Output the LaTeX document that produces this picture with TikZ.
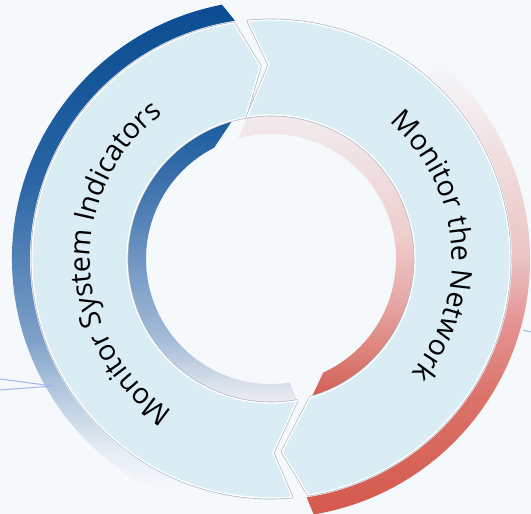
\documentclass[tikz,border=0pt]{standalone}
\usepackage{fontspec}
\setmainfont{Open Sans}
\usetikzlibrary{decorations.text}
\definecolor{bg}{HTML}{F5F9FC}
\definecolor{bandc}{HTML}{DAEDF5}
\definecolor{shadowc}{HTML}{A9B2BC}
\definecolor{linec}{HTML}{A4B4F0}
% blue outer
\definecolor{boA}{HTML}{E5ECF3}
\definecolor{boB}{HTML}{A9C1DA}
\definecolor{boC}{HTML}{7FA0C8}
\definecolor{boD}{HTML}{2A65A5}
\definecolor{boE}{HTML}{155698}
\definecolor{boF}{HTML}{0C4C91}
% blue inner
\definecolor{biA}{HTML}{E8EBF0}
\definecolor{biB}{HTML}{D5DEE9}
\definecolor{biC}{HTML}{A5BCD8}
\definecolor{biD}{HTML}{3A70AC}
\definecolor{biE}{HTML}{1E5EA0}
% pink inner
\definecolor{piA}{HTML}{D35E55}
\definecolor{piB}{HTML}{DC847C}
\definecolor{piC}{HTML}{E6A8A6}
\definecolor{piD}{HTML}{EFCFCF}
\definecolor{piE}{HTML}{F1E9EB}
% red outer
\definecolor{roA}{HTML}{D45A4E}
\definecolor{roB}{HTML}{DB7268}
\definecolor{roC}{HTML}{E59595}
\definecolor{roD}{HTML}{EBC3C3}
\definecolor{roE}{HTML}{F0D8D8}
\pgfdeclareverticalshading{blueouter}{100bp}{color(0bp)=(bg); color(27.8bp)=(bg); color(31.6bp)=(boA); color(38.3bp)=(boB); color(42.2bp)=(boC); color(57.6bp)=(boD); color(67.4bp)=(boE); color(75bp)=(boF); color(100bp)=(boF)}
\pgfdeclareverticalshading{blueinner}{100bp}{color(0bp)=(biA); color(36.5bp)=(biA); color(38.3bp)=(biB); color(42.2bp)=(biC); color(57.6bp)=(biD); color(62.9bp)=(biE); color(100bp)=(biE)}
\pgfdeclareverticalshading{pinkinner}{100bp}{color(0bp)=(piA); color(36.8bp)=(piA); color(41.2bp)=(piB); color(46bp)=(piC); color(52.5bp)=(piD); color(63.1bp)=(piE); color(100bp)=(piE)}
\pgfdeclareverticalshading{redouter}{100bp}{color(0bp)=(roA); color(25.9bp)=(roA); color(36.5bp)=(roB); color(44.2bp)=(roC); color(50bp)=(roD); color(57.7bp)=(roE); color(69.3bp)=(bg); color(100bp)=(bg)}
\begin{document}
\begin{tikzpicture}[
  bandfill/.style={fill=bandc, draw=white, line width=1.3pt, line join=round},
  bandshadow/.style={draw=shadowc, line width=2.6pt, line join=round},
  deco/.style={draw=linec, line width=1pt},
  arctext/.style={decorate, decoration={text along path, text align=center, text={#1}}}
]
\useasboundingbox (-271pt,-255pt) rectangle (260pt,259pt);
\fill[bg] (-271pt,-255pt) rectangle (260pt,259pt);

% outer rings
\begin{scope}
\clip (98.6:241pt) -- (100.9:259pt) arc[start angle=100.9,end angle=250,radius=259pt] -- (250:241pt) arc[start angle=250,end angle=98.6,radius=241pt] -- cycle;
\shade[shading=blueouter] (-271pt,-259pt) rectangle (260pt,259pt);
\end{scope}
\begin{scope}
\clip (-81.5:241pt) -- (-80.5:259pt) arc[start angle=-80.5,end angle=50,radius=259pt] -- (50:241pt) arc[start angle=50,end angle=-81.5,radius=241pt] -- cycle;
\shade[shading=redouter] (-271pt,-259pt) rectangle (260pt,259pt);
\end{scope}

% decorative thin lines
\coordinate (la) at (-271pt,-120pt);
\coordinate (lb) at (-271pt,-131pt);
\coordinate (lt) at (-218pt,-127pt);
\coordinate (ra) at (252pt,-71pt);
\coordinate (rb) at (260pt,-73pt);
\draw[deco] (la) -- (lt) -- (lb);
\draw[deco] (ra) -- (rb);

% inner rings
\begin{scope}
\clip (106:143pt) arc[start angle=106,end angle=280.4,radius=143pt] -- (278.7:125pt) arc[start angle=278.7,end angle=117,radius=125pt] -- cycle;
\shade[shading=blueinner] (-271pt,-259pt) rectangle (260pt,259pt);
\end{scope}
\begin{scope}
\clip (99.6:143pt) arc[start angle=99.6,end angle=-73.2,radius=143pt] -- (-65.3:125pt) arc[start angle=-65.3,end angle=105,radius=125pt] -- cycle;
\shade[shading=pinkinner] (-271pt,-259pt) rectangle (260pt,259pt);
\end{scope}

% left arrow band
\path[bandshadow] (275:239pt) arc[start angle=275,end angle=99,radius=239pt] -- (93.2:193pt) -- (100.2:144pt) arc[start angle=100.2,end angle=280.4,radius=144pt] -- (270.6:194pt) -- cycle;
\path[bandfill] (275:239pt) arc[start angle=275,end angle=99,radius=239pt] -- (93.2:193pt) -- (100.2:144pt) arc[start angle=100.2,end angle=280.4,radius=144pt] -- (270.6:194pt) -- cycle;
% right arrow band
\path[bandshadow] (95.5:239pt) arc[start angle=95.5,end angle=-81,radius=239pt] -- (-86.7:193pt) -- (-74.2:144pt) arc[start angle=-74.2,end angle=99.6,radius=144pt] -- (90.6:194pt) -- cycle;
\path[bandfill] (95.5:239pt) arc[start angle=95.5,end angle=-81,radius=239pt] -- (-86.7:193pt) -- (-74.2:144pt) arc[start angle=-74.2,end angle=99.6,radius=144pt] -- (90.6:194pt) -- cycle;

% texts
\path[arctext={|\fontsize{28.5pt}{30pt}\selectfont|Monitor System Indicators}] (262:181pt) arc[start angle=262,end angle=102,radius=181pt];
\path[arctext={|\fontsize{28.5pt}{30pt}\selectfont|Monitor the Network}] (85:181pt) arc[start angle=85,end angle=-75,radius=181pt];
\end{tikzpicture}
\end{document}
